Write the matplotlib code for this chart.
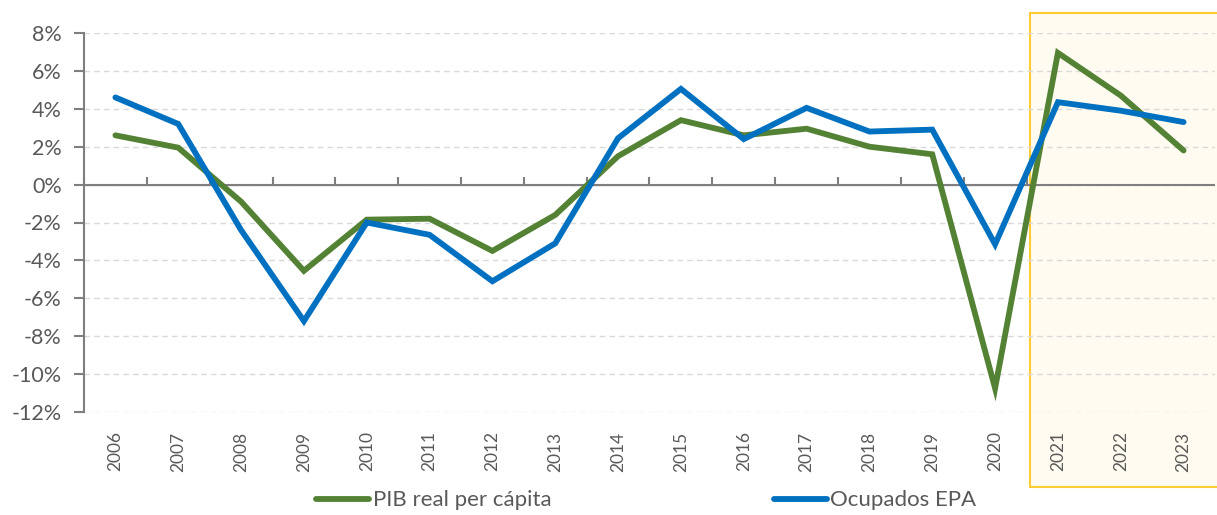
import matplotlib
matplotlib.use("Agg")
import matplotlib.pyplot as plt
import matplotlib.transforms as mtransforms
from matplotlib.patches import Rectangle

years = [str(y) for y in range(2006, 2024)]
pib = [2.6, 1.95, -0.9, -4.55, -1.85, -1.8, -3.5, -1.6, 1.5, 3.4, 2.6, 2.95, 2.0, 1.6, -10.75, 6.95, 4.7, 1.8]
ocupados = [4.6, 3.2, -2.4, -7.2, -2.0, -2.65, -5.1, -3.1, 2.45, 5.05, 2.4, 4.05, 2.8, 2.9, -3.15, 4.35, 3.9, 3.3]
yticks = list(range(-12, 10, 2))
highlight_start = "2021"

GREEN = "#548235"
BLUE = "#0070C0"
GREY = "#7F7F7F"
TXT = "#595959"

plt.rcParams['font.family'] = ['Lato', 'DejaVu Sans']

fig = plt.figure(figsize=(12.17, 5.15), dpi=100)
ax = fig.add_axes([84/1217, 1-412/515, (1215-84)/1217, (412-33)/515])

x = list(range(len(years)))
ax.plot(x, pib, color=GREEN, lw=4.2, solid_capstyle='round', solid_joinstyle='miter', label="PIB real per cápita", zorder=3)
ax.plot(x, ocupados, color=BLUE, lw=4.2, solid_capstyle='round', solid_joinstyle='miter', label="Ocupados EPA", zorder=3)

ax.set_xlim(-0.5, len(years) - 0.5)
ax.set_ylim(-12, 8)
ax.set_yticks(yticks)
ax.set_yticklabels([f"{v}%" for v in yticks])
ax.grid(axis='y', color="#D9D9D9", linestyle=(0, (4, 3)), lw=1)
ax.set_axisbelow(True)

for s in ['top', 'right', 'bottom']:
    ax.spines[s].set_visible(False)
ax.spines['left'].set_color(GREY)
ax.spines['left'].set_linewidth(1.5)
ax.tick_params(axis='y', colors=GREY, labelcolor=TXT, labelsize=15.5, length=7, width=1.5, pad=9)

ax.set_xticks(x)
ax.set_xticklabels(years, rotation=90)
ax.tick_params(axis='x', length=0, labelsize=12.5, labelcolor=TXT, pad=14)

# zero axis with boundary ticks
ax.axhline(0, color=GREY, lw=1.5, zorder=2)
ymin, ymax = ax.get_ylim()
sec = ax.secondary_xaxis((0 - ymin) / (ymax - ymin))
sec.set_xticks([i + 0.5 for i in range(-1, len(years))])
sec.set_xticklabels([])
sec.tick_params(axis='x', direction='out', length=6, width=1.5, color=GREY)
sec.spines['bottom'].set_visible(False)

# highlight box
i0 = years.index(highlight_start)
trans = mtransforms.blended_transform_factory(ax.transData, fig.transFigure)
rect = Rectangle((i0 - 0.45, 1 - 487/515), len(years) - i0 + 1, (487-13)/515,
                 transform=trans, facecolor="#FFFBF0", edgecolor="#FFCC33", lw=1.5,
                 clip_on=False, zorder=0.5)
ax.add_patch(rect)

leg = fig.legend(loc='lower left', bbox_to_anchor=(296/1217, -0.03), ncol=2, frameon=False,
                 fontsize=16, handlelength=2.4, handletextpad=0.15, columnspacing=10,
                 labelcolor=TXT)

fig.savefig("out.png", dpi=100)
